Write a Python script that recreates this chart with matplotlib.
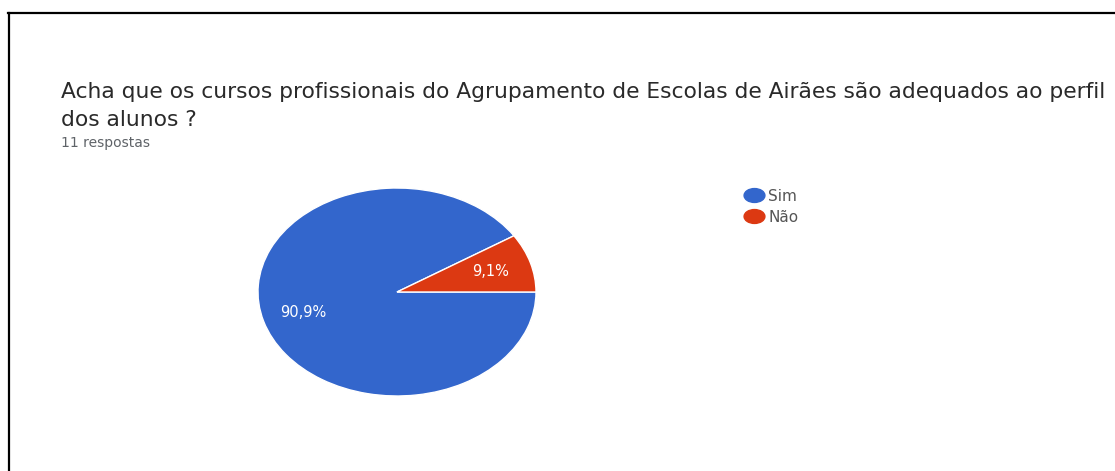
import matplotlib.pyplot as plt
from matplotlib.lines import Line2D
from matplotlib.path import Path
from matplotlib.transforms import Affine2D

plt.rcParams['font.family'] = ['DejaVu Sans']

titulo = 'Acha que os cursos profissionais do Agrupamento de Escolas de Airães são adequados ao perfil'
titulo_2 = 'dos alunos ?'
subtitulo = '11 respostas'
categorias = ['Sim', 'Não']
respostas = [10, 1]
cores = ['#3366cc', '#dc3912']

fig = plt.figure(figsize=(11.15, 4.71), dpi=100)
W, H = 1115, 471

# moldura (linha de cima e da esquerda)
fig.add_artist(Line2D([8 / W, 1], [1 - 13 / H, 1 - 13 / H], color='black', linewidth=1.6))
fig.add_artist(Line2D([9 / W, 9 / W], [1 - 13 / H, 0], color='black', linewidth=1.6))

# textos do cabeçalho
fig.text(61 / W, 1 - 92 / H, titulo, fontsize=15.65, color='#2a2a2a', va='center', ha='left')
fig.text(61 / W, 1 - 120 / H, titulo_2, fontsize=15.65, color='#2a2a2a', va='center', ha='left')
fig.text(61 / W, 1 - 143 / H, subtitulo, fontsize=10, color='#5f6368', va='center', ha='left')

# pizza (esticada na horizontal)
cx, cy, rx, ry = 397, 292, 139, 104
ax = fig.add_axes([(cx - rx) / W, 1 - (cy + ry) / H, 2 * rx / W, 2 * ry / H])
wedges, _, pcts = ax.pie(respostas, colors=cores, startangle=0, counterclock=False,
                         autopct=lambda p: f'{p:.1f}%'.replace('.', ','),
                         pctdistance=0.7,
                         wedgeprops=dict(edgecolor='white', linewidth=1),
                         textprops=dict(color='white', fontsize=10.5))
ax.set_aspect('auto')
ax.set_xlim(-1, 1)
ax.set_ylim(-1, 1)

# legenda com marcadores ovais
oval = Affine2D().scale(1.5, 1).transform_path(Path.unit_circle())
handles = [Line2D([], [], marker=oval, linestyle='', markersize=15,
                  markerfacecolor=c, markeredgecolor=c) for c in cores]
fig.legend(handles, categorias, loc='upper left', bbox_to_anchor=(736 / W, 1 - 181 / H),
           frameon=False, fontsize=11, labelcolor='#555555', handletextpad=0.3,
           labelspacing=0.4, borderpad=0, handlelength=1.3)

fig.savefig('out.png', dpi=100)
